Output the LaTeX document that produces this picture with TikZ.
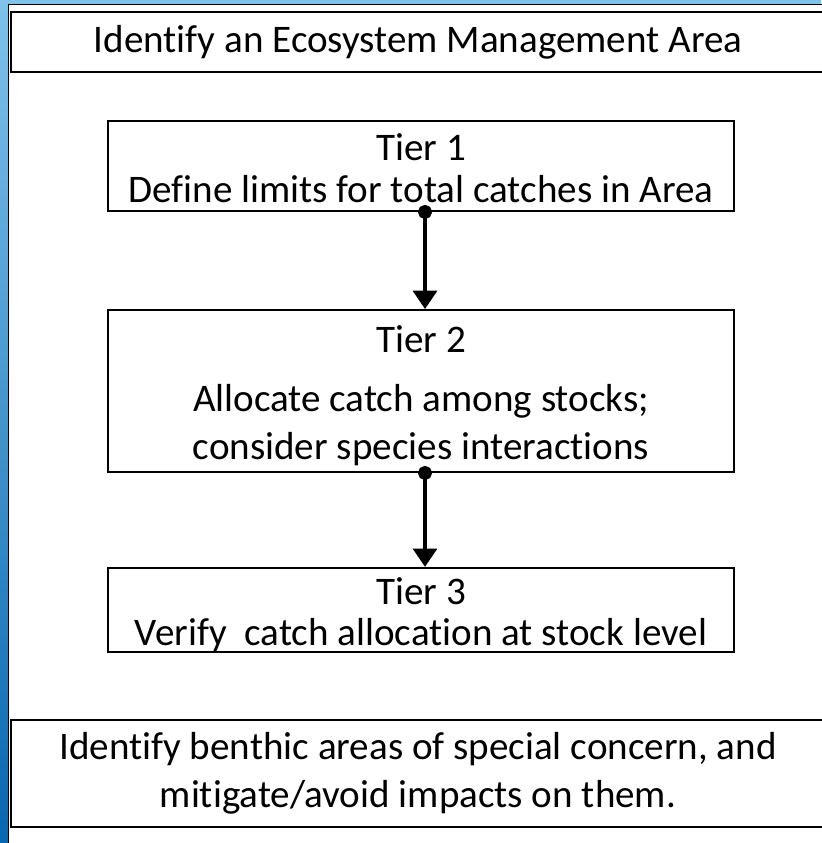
\documentclass[tikz,border=0pt]{standalone}
\usepackage{fontspec}
\setmainfont[Ligatures=NoCommon]{Carlito}
\usetikzlibrary{arrows.meta}
\definecolor{skyblue}{HTML}{7FC2EA}
\definecolor{midblue}{HTML}{34A8DC}
\definecolor{deepblue}{HTML}{0867B0}

\begin{document}
\begin{tikzpicture}[
  box/.style={draw, line width=1.4pt, fill=white, align=center, inner sep=0pt,
    font=\fontsize{27.8}{34.5}\selectfont},
  flow/.style={line width=2.5pt, {Circle[length=10pt]}-{Triangle[width=17pt,length=13pt]},
    shorten <=-5pt}
]
\useasboundingbox (0,0) rectangle (20.525,21.075);
\coordinate (P1) at (0,0);
\coordinate (P2) at (20.525,21.075);
\coordinate (W1) at (0.2125,-1);
\coordinate (W2) at (22,20.9625);

% background and panel
\shade[top color=skyblue, middle color=midblue, bottom color=deepblue] (P1) rectangle (P2);
\filldraw[fill=white, draw=black, line width=1.4pt] (W1) rectangle (W2);

\node[box, minimum width=20.35cm, minimum height=1.5cm] (area) at (10.45,20.025)
  {Identify an Ecosystem Management Area};

\node[box, minimum width=15.65cm, minimum height=2.25cm] (tierone) at (10.525,16.925)
  {\rule{0pt}{22pt}Tier 1\\[-5pt]Define limits for total catches in Area};
\node[box, minimum width=15.65cm, minimum height=4.05cm] (tiertwo) at (10.525,11.3)
  {\rule{0pt}{26pt}Tier 2\\[7pt]Allocate catch among stocks;\\consider species interactions};
\node[box, minimum width=15.65cm, minimum height=2.1cm] (tierthree) at (10.525,5.825)
  {\rule{0pt}{26pt}Tier 3\\[-5pt]Verify\ \ catch allocation at stock level};

\node[box, minimum width=20.35cm, minimum height=2.675cm] (benthic) at (10.45,1.7375)
  {Identify benthic areas of special concern, and\\mitigate/avoid impacts on them.};

\draw[flow] ([xshift=0.1cm]tierone.south) -- ([xshift=0.1cm]tiertwo.north);
\draw[flow] ([xshift=0.1cm]tiertwo.south) -- ([xshift=0.1cm]tierthree.north);
\end{tikzpicture}
\end{document}
